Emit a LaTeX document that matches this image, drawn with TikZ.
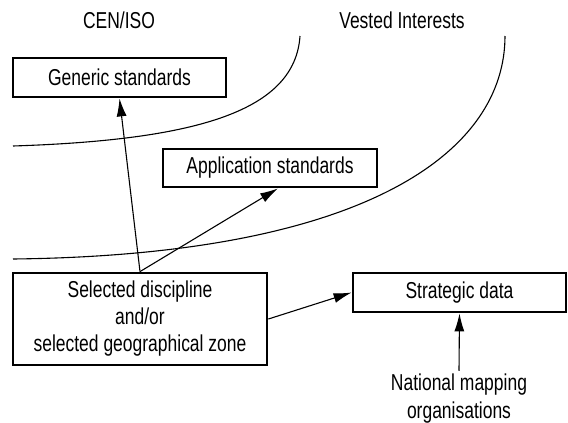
\documentclass[tikz,border=0pt]{standalone}
\usepackage{fontspec}
\setmainfont[FakeStretch=0.76]{Liberation Sans}
\usetikzlibrary{arrows.meta}
\begin{document}
\begin{tikzpicture}[x=1pt,y=-1pt,
  every node/.style={font=\fontsize{23}{27}\selectfont},
  stdbox/.style={draw,line width=2.8pt,inner sep=0pt,align=center},
  conn/.style={line width=1.1pt,-{Latex[length=18pt,width=10pt]}},
  zone/.style={line width=1.1pt}]
\useasboundingbox (0,0) rectangle (568,423);
\node (ceniso) at (119,20) {CEN/ISO};
\node (vested) at (402,20) {Vested Interests};
\node[stdbox,minimum width=213pt,minimum height=39pt] (gen) at (119.5,77.5) {Generic standards};
\node[stdbox,minimum width=214pt,minimum height=38pt] (app) at (270,168) {Application standards};
\node[stdbox,minimum width=254pt,minimum height=92pt] (sel) at (140,319) {Selected discipline\\and/or\\selected geographical zone};
\node[stdbox,minimum width=213pt,minimum height=39pt] (str) at (459.5,292.5) {Strategic data};
\node[align=center,font=\fontsize{23}{28}\selectfont] (nat) at (459,399) {National mapping\\organisations};
\coordinate (c1a) at (300,36);
\coordinate (c1b) at (13,146);
\coordinate (c2a) at (505,36);
\coordinate (c2b) at (13,259);
\draw[zone] (c1a) .. controls (295,110) and (200,140) .. (c1b);
\draw[zone] (c2a) .. controls (505,150) and (370,255) .. (c2b);
\draw[conn] (sel.north) -- (gen.south);
\draw[conn] (sel.north) -- ([xshift=8pt]app.south);
\draw[conn] (sel.east) -- (str.west);
\draw[conn] (nat.north) -- (str.south);
\end{tikzpicture}
\end{document}
